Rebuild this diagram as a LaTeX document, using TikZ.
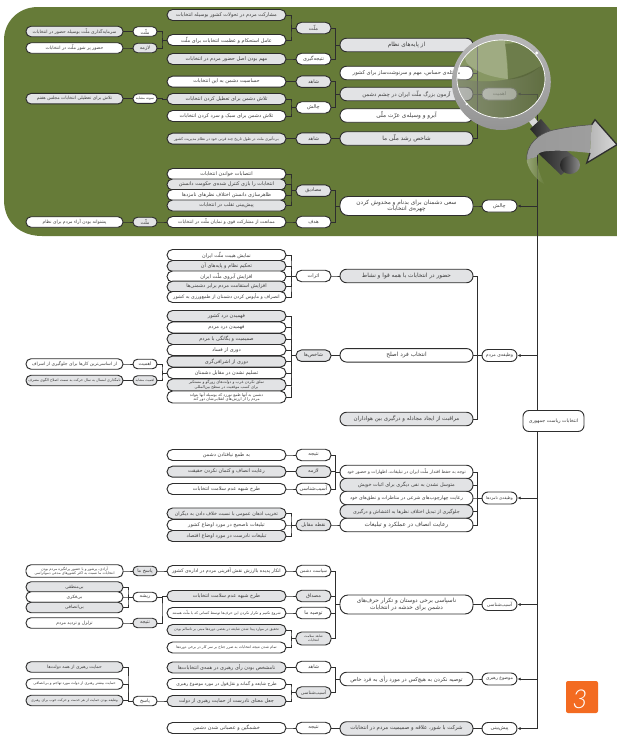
\documentclass[tikz,border=0pt]{standalone}
\usepackage{fontspec}
\usetikzlibrary{arrows.meta,calc}
\TeXXeTstate=1
\newfontfamily\arabicfont[Script=Arabic]{DejaVu Sans}
\newfontfamily\numfont{Lato Light}
\newcommand{\fa}[1]{\beginR #1\endR}
\definecolor{bgreen}{HTML}{667B38}
\definecolor{pillgray}{HTML}{E2E3E5}
\definecolor{edgec}{HTML}{2E2E2E}
\definecolor{txt}{HTML}{3C3C3C}
\definecolor{orangec}{HTML}{F36B21}
\tikzset{
  fs/.style={font={\arabicfont\fontsize{#1}{#1}\selectfont\baselineskip 1.2em}},
  pill/.style={draw=edgec,line width=.95pt,fill=white,text=txt,inner sep=0pt,align=center,rounded corners=#1},
  gr/.style={fill=pillgray},
  cA/.style={pill=5pt,minimum width=97pt,minimum height=10.5pt,fs=4.5},
  cB/.style={pill=4.5pt,minimum width=24pt,minimum height=9.5pt,fs=4.8},
  cC/.style={pill=5.5pt,minimum width=119pt,minimum height=11pt,fs=5},
  cD/.style={pill=5.5pt,minimum width=35pt,minimum height=11.5pt,fs=5},
  cE/.style={pill=6.5pt,minimum width=133pt,minimum height=13.5pt,fs=5.8},
  cF/.style={pill=6pt,minimum width=35pt,minimum height=12pt,fs=5},
  link/.style={draw=edgec,line width=.8pt},
  feed/.style={draw=edgec,line width=1pt,-{Latex[length=3.2pt,width=3.2pt]}},
}
\newcommand{\conn}[2]{\draw[link] (#1.east) -| ($(#1.east)!.5!(#2.west)$) |- (#2.west);}
\begin{document}
\begin{tikzpicture}[x=1pt,y=-1pt]
\useasboundingbox (0,0) rectangle (617,736);
\fill[bgreen] (617,7) -- (38,7) .. controls (18,7) and (4,22) .. (4,40) -- (4,200) .. controls (4,222) and (20,236) .. (42,236) -- (617,236) -- cycle;

% ---- upper green block
\node[cC,gr] (t1) at (226.5,15) {\fa{مشارکت مردم در تحولات کشور بوسیله انتخابات}};
\node[cC] (t2) at (226.5,40) {\fa{عامل استحکام و عظمت انتخابات برای ملّت}};
\node[cC,gr] (t3) at (226.5,59) {\fa{مهم بودن اصل حضور مردم در انتخابات}};
\node[cC] (t4) at (226.5,81.7) {\fa{حساسیت دشمن به این انتخابات}};
\node[cC,gr] (t5) at (226.5,99) {\fa{تلاش دشمن برای تعطیل کردن انتخابات}};
\node[cC] (t6) at (226.5,116) {\fa{تلاش دشمن برای سبک و سرد کردن انتخابات}};
\node[cC,gr,fs=3.8] (t7) at (226.5,138.7) {\fa{بی‌تأثیری ملت در طول تاریخ چند قرنی خود در نظام مدیریت کشور}};
\node[cC] (t8) at (226.5,174) {\fa{انتصابات خواندن انتخابات}};
\node[cC,gr] (t9) at (226.5,184.5) {\fa{انتخابات را بازی کنترل شده‌ی حکومت دانستن}};
\node[cC] (t10) at (226.5,195) {\fa{ظاهرسازی دانستن اختلاف نظرهای نامزدها}};
\node[cC,gr] (t11) at (226.5,205.5) {\fa{پیش‌بینی تقلب در انتخابات}};
\node[cC,fs=4.6] (t12) at (226.5,222) {\fa{ممانعت از مشارکت قوی و نمایان ملّت در انتخابات}};

\node[cA,gr] (a1) at (74.5,31.5) {\fa{سرمایه‌گذاری ملّت بوسیله حضور در انتخابات}};
\node[cA] (a2) at (74.5,48) {\fa{حضور پر شور ملّت در انتخابات}};
\node[cA,gr] (a3) at (74.5,98.7) {\fa{تلاش برای تعطیلی انتخابات مجلس هفتم}};
\node[cA] (a4) at (74.5,222) {\fa{پشتوانه بودن آراء مردم برای نظام}};
\node[cB] (b1) at (145,31.5) {\fa{ملّت}};
\node[cB,gr] (b2) at (145,48) {\fa{لازمه}};
\node[cB,fs=3.6] (b3) at (145,98.7) {\fa{نمونه مشابه}};
\node[cB,gr] (b4) at (145,222) {\fa{ملّت}};

\node[cD,gr] (d1) at (313.5,28) {\fa{ملّت}};
\node[cD] (d2) at (313.5,59) {\fa{نتیجه‌گیری}};
\node[cD,gr] (d3) at (313.5,81.7) {\fa{شاهد}};
\node[cD] (d4) at (313.5,107.5) {\fa{چالش}};
\node[cD,gr] (d5) at (313.5,138.7) {\fa{شاهد}};
\node[cD,gr] (d6) at (313.5,190.7) {\fa{مصادیق}};
\node[cD] (d7) at (313.5,222) {\fa{هدف}};

\node[cE,gr] (e1) at (406.5,45) {\fa{از پایه‌های نظام}};
\node[cE,fs=5.2] (e2) at (406.5,73) {\fa{مسئله‌ی حساس، مهم و سرنوشت‌ساز برای کشور}};
\node[cE,gr,fs=5.4] (e3) at (406.5,94) {\fa{آزمون بزرگ ملّت ایران در چشم دشمن}};
\node[cE] (e4) at (406.5,115.5) {\fa{آبرو و وسیله‌ی عزّت ملّی}};
\node[cE,gr] (e5) at (406.5,138.5) {\fa{شاخص رشد ملّی ما}};
\node[cE,minimum height=19pt,pill=8pt] (e6) at (406.5,206) {\fa{سعی دشمنان برای بدنام و مخدوش کردن}\\\fa{چهره‌ی انتخابات}};
\node[cF,draw=black!45,text=black!50] (f1) at (499.5,94) {\fa{اهمیت}};
\node[cF] (f2) at (499.5,206) {\fa{چالش}};

% ---- people's duty
\node[cC] (u1) at (226.5,255) {\fa{نمایش هیبت ملّت ایران}};
\node[cC,gr] (u2) at (226.5,266) {\fa{تحکیم نظام و پایه‌های آن}};
\node[cC] (u3) at (226.5,276.5) {\fa{افزایش آبروی ملّت ایران}};
\node[cC,gr] (u4) at (226.5,286.7) {\fa{افزایش استقامت مردم برابر دشمنی‌ها}};
\node[cC,fs=4.7] (u5) at (226.5,297) {\fa{انصراف و مأیوس کردن دشمنان از طمع‌ورزی به کشور}};
\node[cC,gr] (u6) at (226.5,316) {\fa{فهمیدن درد کشور}};
\node[cC] (u7) at (226.5,327.5) {\fa{فهمیدن درد مردم}};
\node[cC,gr] (u8) at (226.5,339) {\fa{صمیمیت و یگانگی با مردم}};
\node[cC] (u9) at (226.5,350) {\fa{دوری از فساد}};
\node[cC,gr] (u10) at (226.5,361.6) {\fa{دوری از اشرافی‌گری}};
\node[cC] (u11) at (226.5,373) {\fa{تسلیم نشدن در مقابل دشمنان}};
\node[cC,gr,fs=3.9,minimum height=12pt] (u12) at (226.5,385) {\fa{تملق نکردن غرب و دولت‌های زورگو و مستکبر}\\\fa{برای کسب موقعیت در سطح بین‌المللی}};
\node[cC,fs=3.9,minimum height=12pt] (u13) at (226.5,397) {\fa{دشمن به آنها طمع نورزد که بوسیله آنها بتواند}\\\fa{مردم را از ارزش‌های انقلابی‌شان دور کند}};
\node[cA] (a5) at (74.5,364) {\fa{از اساسی‌ترین کارها برای جلوگیری از اسراف}};
\node[cA,gr,fs=3.6] (a6) at (74.5,380.5) {\fa{نامگذاری امسال به سال حرکت به سمت اصلاح الگوی مصرف}};
\node[cB] (b5) at (145,364) {\fa{اهمیت}};
\node[cB,gr,fs=3.4] (b6) at (145,380.5) {\fa{اهمیت مشابه}};
\node[cD] (d8) at (313.5,276) {\fa{اثرات}};
\node[cD,gr] (d9) at (313.5,355.7) {\fa{شاخص‌ها}};
\node[cE,gr] (e7) at (406.5,276) {\fa{حضور در انتخابات با همه قوا و نشاط}};
\node[cE] (e8) at (406.5,355.3) {\fa{انتخاب فرد اصلح}};
\node[cE,gr,fs=5.5] (e9) at (406.5,419) {\fa{مراقبت از ایجاد مجادله و درگیری بین هواداران}};
\node[cF,fs=4.6] (f3) at (499.5,355.5) {\fa{وظیفه‌ی مردم}};

% ---- candidates' duty
\node[cC] (v1) at (226.5,455) {\fa{به طمع نیافتادن دشمن}};
\node[cC,gr] (v2) at (226.5,471.7) {\fa{رعایت انصاف و کتمان نکردن حقیقت}};
\node[cC] (v3) at (226.5,489) {\fa{طرح شبهه عدم سلامت انتخابات}};
\node[cC,gr,fs=4.8] (v4) at (226.5,513.5) {\fa{تخریب اذهان عمومی با نسبت خلاف دادن به دیگران}};
\node[cC] (v5) at (226.5,525) {\fa{تبلیغات ناصحیح در مورد اوضاع کشور}};
\node[cC,gr] (v6) at (226.5,536) {\fa{تبلیغات نادرست در مورد اوضاع اقتصاد}};
\node[cD] (d10) at (313.5,455) {\fa{نتیجه}};
\node[cD,gr] (d11) at (313.5,471.7) {\fa{لازمه}};
\node[cD] (d12) at (313.5,489) {\fa{آسیب‌شناسی}};
\node[cD,gr] (d13) at (313.5,525) {\fa{نقطه مقابل}};
\node[cE,fs=4.4] (e10) at (406.5,472) {\fa{توجه به حفظ اقتدار ملّت ایران در تبلیغات، اظهارات و حضور خود}};
\node[cE,gr,fs=5] (e11) at (406.5,485) {\fa{متوسل نشدن به نفی دیگری برای اثبات خویش}};
\node[cE,fs=4.8] (e12) at (406.5,498) {\fa{رعایت چهارچوب‌های شرعی در مناظرات و نطق‌های خود}};
\node[cE,gr,fs=4.8] (e13) at (406.5,511.5) {\fa{جلوگیری از تبدیل اختلاف نظرها به اغتشاش و درگیری}};
\node[cE] (e14) at (406.5,525) {\fa{رعایت انصاف در عملکرد و تبلیغات}};
\node[cF,fs=4] (f4) at (499.5,498) {\fa{وظیفه‌ی نامزدها}};

% ---- pathology
\node[cC,fs=4.8] (w1) at (226.5,571) {\fa{انکار پدیده باارزش نقش آفرینی مردم در اداره‌ی کشور}};
\node[cC,gr] (w2) at (226.5,596) {\fa{طرح شبهه عدم سلامت انتخابات}};
\node[cC,fs=3.7] (w3) at (226.5,613) {\fa{شروع نکنیم و تکرار نکردن این حرف‌ها توسط کسانی که با ملّت هستند}};
\node[cC,gr,fs=3.6] (w4) at (226.5,630) {\fa{تحقیق در موارد پیدا شدن شایعه در بعضی دوره‌ها مبنی بر ناسالم بودن}};
\node[cC,fs=3.7] (w5) at (226.5,647.5) {\fa{تمام شدن نتیجه انتخابات به ضرر جناح بر سر کار در برخی دوره‌ها}};
\node[cA,minimum height=12.5pt,fs=3.6] (a7) at (74.5,571) {\fa{آزادی، پرشور و با حضور پرانگیزه مردم بودن}\\\fa{انتخابات ما نسبت به اکثر کشورهای مدعی دموکراسی}};
\node[cA,gr] (a8) at (74.5,587) {\fa{بی‌منطقی}};
\node[cA] (a9) at (74.5,597) {\fa{بی‌فکری}};
\node[cA,gr] (a10) at (74.5,607.5) {\fa{بی‌انصافی}};
\node[cA] (a11) at (74.5,623) {\fa{تزلزل و تردید مردم}};
\node[cB,gr] (b7) at (145,571) {\fa{پاسخ ما}};
\node[cB] (b8) at (145,597) {\fa{ریشه}};
\node[cB,gr] (b9) at (145,623) {\fa{نتیجه}};
\node[cD,fs=4.4] (d14) at (313.5,571) {\fa{سیاست دشمن}};
\node[cD,gr] (d15) at (313.5,596) {\fa{مصداق}};
\node[cD] (d16) at (313.5,613) {\fa{توصیه ما}};
\node[cD,gr,fs=3.4,minimum height=13pt] (d17) at (313.5,638.5) {\fa{شاهد سلامت}\\\fa{انتخابات}};
\node[cE,gr,minimum height=19pt,pill=8pt] (e15) at (406.5,604.5) {\fa{ناسپاسی برخی دوستان و تکرار حرف‌های}\\\fa{دشمن برای خدشه در انتخابات}};
\node[cF,fs=4.6] (f5) at (499.5,604.5) {\fa{آسیب‌شناسی}};

% ---- leader
\node[cC,gr] (x1) at (226.5,667.5) {\fa{نامشخص بودن رأی رهبری در همه‌ی انتخابات‌ها}};
\node[cC,fs=4.5] (x2) at (226.5,684) {\fa{طرح شایعه و گمانه و نقل‌قول در مورد موضوع رهبری}};
\node[cC,gr] (x3) at (226.5,701) {\fa{جعل معنای نادرست از حمایت رهبری از دولت}};
\node[cC] (x4) at (226.5,728) {\fa{خشمگین و عصبانی شدن دشمن}};
\node[cA,gr] (a12) at (74.5,667) {\fa{حمایت رهبری از همه دولت‌ها}};
\node[cA,fs=3.7] (a13) at (74.5,684) {\fa{حمایت بیشتر رهبری از دولت مورد تهاجم و بی‌انصافی}};
\node[cA,gr,fs=3.5] (a14) at (74.5,700.5) {\fa{وظیفه بودن حمایت از هر خدمت و حرکت خوب برای رهبری}};
\node[cB] (b10) at (145,701) {\fa{پاسخ}};
\node[cD] (d18) at (313.5,667) {\fa{شاهد}};
\node[cD,gr,fs=4.6] (d19) at (313.5,692.5) {\fa{آسیب‌شناسی}};
\node[cD] (d20) at (313.5,728) {\fa{نتیجه}};
\node[cE,fs=5.4] (e16) at (406.5,679) {\fa{توصیه نکردن به هیچ‌کس در مورد رأی به فرد خاص}};
\node[cE,gr,fs=5.4] (e17) at (406.5,728.5) {\fa{شرکت با شور، علاقه و صمیمیت مردم در انتخابات}};
\node[cF,fs=4.5] (f6) at (499.5,679) {\fa{موضوع رهبری}};
\node[cF] (f7) at (499.5,728.5) {\fa{پیش‌بینی}};

% ---- connectors
\conn{a1}{b1}\conn{a2}{b2}\conn{a3}{b3}\conn{a4}{b4}
\conn{b1}{t2}\conn{b2}{t2}\conn{b3}{t5}\conn{b4}{t12}
\conn{t1}{d1}\conn{t2}{d1}\conn{t3}{d2}\conn{t4}{d3}\conn{t5}{d4}\conn{t6}{d4}\conn{t7}{d5}
\conn{t8}{d6}\conn{t9}{d6}\conn{t10}{d6}\conn{t11}{d6}\conn{t12}{d7}
\conn{d1}{e1}\conn{d2}{e1}\conn{d3}{e3}\conn{d4}{e3}\conn{d5}{e5}\conn{d6}{e6}\conn{d7}{e6}
\conn{e1}{f1}\conn{e2}{f1}\conn{e3}{f1}\conn{e4}{f1}\conn{e5}{f1}\conn{e6}{f2}
\conn{u1}{d8}\conn{u2}{d8}\conn{u3}{d8}\conn{u4}{d8}\conn{u5}{d8}
\conn{u6}{d9}\conn{u7}{d9}\conn{u8}{d9}\conn{u9}{d9}\conn{u10}{d9}\conn{u11}{d9}\conn{u12}{d9}\conn{u13}{d9}
\conn{a5}{b5}\conn{a6}{b6}\conn{b5}{u11}\conn{b6}{u11}
\conn{d8}{e7}\conn{d9}{e8}\conn{e7}{f3}\conn{e8}{f3}\conn{e9}{f3}
\conn{v1}{d10}\conn{v2}{d11}\conn{v3}{d12}\conn{v4}{d13}\conn{v5}{d13}\conn{v6}{d13}
\conn{d10}{e10}\conn{d11}{e10}\conn{d12}{e10}\conn{d13}{e14}
\conn{e10}{f4}\conn{e11}{f4}\conn{e12}{f4}\conn{e13}{f4}\conn{e14}{f4}
\conn{w1}{d14}\conn{w2}{d15}\conn{w3}{d16}\conn{w4}{d17}\conn{w5}{d17}
\conn{d14}{e15}\conn{d15}{e15}\conn{d16}{e15}\conn{d17}{e15}\conn{e15}{f5}
\conn{a7}{b7}\conn{b7}{w1}\conn{a8}{b8}\conn{a9}{b8}\conn{a10}{b8}\conn{a11}{b9}\conn{b8}{w2}\conn{b9}{w2}
\conn{a12}{b10}\conn{a13}{b10}\conn{a14}{b10}\conn{b10}{x3}
\conn{x1}{d18}\conn{x2}{d19}\conn{x3}{d19}\conn{x4}{d20}
\conn{d18}{e16}\conn{d19}{e16}\conn{d20}{e17}\conn{e16}{f6}\conn{e17}{f7}

% ---- trunk and root
\coordinate (hub) at (537,421);
\draw[feed] (hub) |- (f1.east);
\draw[feed] (hub) |- (f2.east);
\draw[feed] (hub) |- (f3.east);
\draw[feed] (hub) |- (f4.east);
\draw[feed] (hub) |- (f5.east);
\draw[feed] (hub) |- (f6.east);
\draw[feed] (hub) |- (f7.east);
\node[pill=6pt,fs=4.8,minimum width=61pt,minimum height=21pt] (root) at (553.5,421) {\fa{انتخابات ریاست جمهوری}};

% ---- handle of the magnifier
\fill[white!85!black] (527,119) -- (532,114) -- (538,122) -- (533,127) -- cycle;
\shade[shading angle=45,left color=black!85,middle color=black!35,right color=black!65] (530,129) -- (541,119) -- (553,133) -- (542,143) -- cycle;
\shade[shading angle=45,left color=black!85,middle color=black!25,right color=black!60] (538,153) -- (553,139) -- (579,161) -- (561,175) -- cycle;
\shade[left color=black!85,right color=black!45] (570,165) ellipse (10 and 9);

% ---- lens
\fill[white,opacity=.22] (501,79) ellipse (44 and 39);
\begin{scope}
  \clip (501,79) ellipse (44 and 39);
  \fill[left color=white!80!bgreen,right color=bgreen,opacity=.3] (456,78) .. controls (480,84) and (520,84) .. (546,62) -- (546,118) -- (456,118) -- cycle;
  \fill[white,opacity=.2] (466.7,63) .. controls (476,72) and (490,77) .. (508,79) -- (505,40) -- (458,40) -- cycle;
  \fill[black!30!bgreen,opacity=.4] (505,44) .. controls (507,55) and (508,65) .. (508,79.5) .. controls (522,79) and (534,73) .. (541.7,64.7) -- (546,40) -- cycle;
\end{scope}
\path[even odd rule,top color=white!72!black,middle color=white!92!black,bottom color=black!42] (501.3,82) ellipse (49.5 and 48) (501,79) ellipse (44 and 39);
\draw[white,line width=.7pt] (501,79) ellipse (44 and 39);
\fill[white] (536.7,53) circle (1.6);
\fill[white] (466.7,104) circle (1.4);

% ---- swoosh arrow
\path[left color=white!45!bgreen,right color=bgreen,opacity=.7] (526.7,159.7) .. controls (527,166) and (533,178) .. (545,184.7) .. controls (541,178) and (537,168) .. (536.7,157) -- cycle;
\shade[left color=black!40,middle color=black!12,right color=black!38] (526.7,159.7) .. controls (526,145) and (538,133) .. (555,129.7) .. controls (570,126.5) and (582,125.5) .. (591.7,124.7) -- (590,153) .. controls (572,151) and (558,150) .. (545,151.3) .. controls (540,152) and (537,154) .. (536.7,157) -- cycle;
\shade[left color=black!30,middle color=white,right color=black!15] (591.7,124.7) -- (595,119.7) -- (617,144.7) -- (586.7,163) -- (590,153) -- cycle;
\draw[draw=edgec,line width=1.3pt,line join=miter] (591.7,124.7) -- (595,119.7) -- (617,144.7) -- (586.7,163) -- (590,153);
\draw[draw=black!70,line width=.5pt] (526.7,159.7) .. controls (526,145) and (538,133) .. (555,129.7) .. controls (570,126.5) and (582,125.5) .. (591.7,124.7);

% ---- badge
\fill[orangec,rounded corners=2pt] (566,681) rectangle (598,713);
\node[inner sep=0pt,text=white,font={\numfont\itshape\fontsize{26}{26}\selectfont}] (badge) at (580,699) {3};
\end{tikzpicture}
\end{document}
